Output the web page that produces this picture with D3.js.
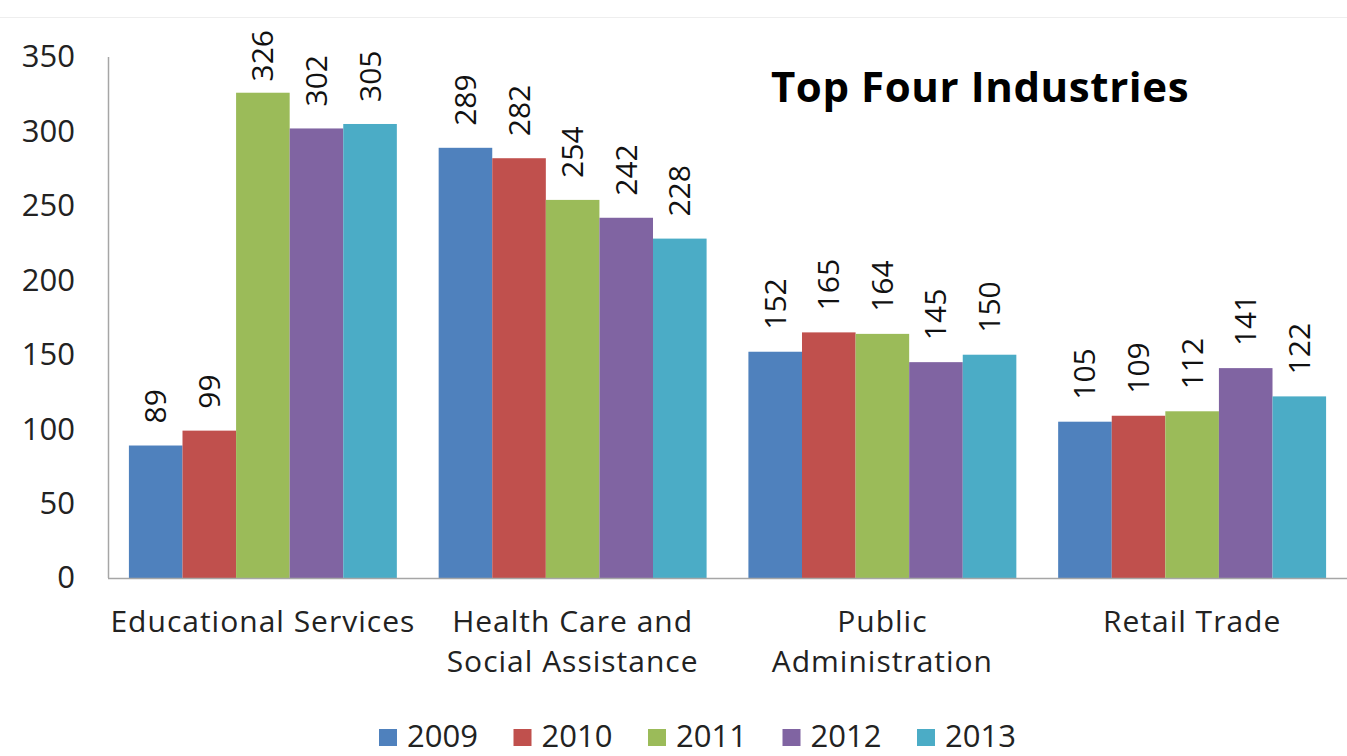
<!DOCTYPE html>
<html>
<head>
<meta charset="utf-8">
<script src="https://cdn.jsdelivr.net/npm/d3@7"></script>
<style>
  body { margin: 0; background: #fff; }
  svg { display: block; }
</style>
</head>
<body>
<svg id="chart" width="1347" height="756"></svg>
<script>
// data
const industries = ["Educational Services", "Health Care and\nSocial Assistance", "Public\nAdministration", "Retail Trade"]
const years = ["2009", "2010", "2011", "2012", "2013"]
const values2009 = [89, 289, 152, 105]
const values2010 = [99, 282, 165, 109]
const values2011 = [326, 254, 164, 112]
const values2012 = [302, 242, 145, 141]
const values2013 = [305, 228, 150, 122]
const yTicks = [0, 50, 100, 150, 200, 250, 300, 350]

const seriesValues = [values2009, values2010, values2011, values2012, values2013]
const colors = ["#4F81BD", "#C0504D", "#9BBB59", "#8064A2", "#4BACC6"]
const font = "'Open Sans', sans-serif"

const width = 1347, height = 756
const plotLeft = 108, plotRight = 1347, plotTop = 57, plotBottom = 578

const svg = d3.select("#chart")

// faint border line along the top
svg.append("line")
  .attr("x1", 0).attr("x2", width)
  .attr("y1", 17.5).attr("y2", 17.5)
  .attr("stroke", "#eeeeee")

const x0 = d3.scaleBand()
  .domain(industries)
  .range([plotLeft, plotRight])
  .paddingInner(0.135)
  .paddingOuter(0.0675)

const x1 = d3.scaleBand()
  .domain(years)
  .range([0, x0.bandwidth()])

const y = d3.scaleLinear()
  .domain([0, 350])
  .range([plotBottom, plotTop])

const color = d3.scaleOrdinal(years, colors)

// y axis labels, no ticks
const yAxis = svg.append("g")
  .attr("transform", "translate(" + plotLeft + ",0)")
  .call(d3.axisLeft(y).tickValues(yTicks).tickSize(0).tickPadding(33))
yAxis.select(".domain").remove()
yAxis.selectAll("text")
  .attr("font-family", font)
  .attr("font-size", 31)
  .attr("fill", "#222")

// bars
const groups = svg.append("g").selectAll("g")
  .data(industries)
  .enter().append("g")
    .attr("transform", d => "translate(" + x0(d) + ",0)")

groups.selectAll("rect")
  .data((d, i) => years.map((yr, j) => ({ year: yr, value: seriesValues[j][i] })))
  .enter().append("rect")
    .attr("x", d => x1(d.year))
    .attr("y", d => y(d.value))
    .attr("width", x1.bandwidth())
    .attr("height", d => plotBottom - y(d.value))
    .attr("fill", d => color(d.year))

// rotated value labels
groups.selectAll("text")
  .data((d, i) => years.map((yr, j) => ({ year: yr, value: seriesValues[j][i] })))
  .enter().append("text")
    .attr("font-family", font)
    .attr("font-size", 30)
    .attr("fill", "#111")
    .attr("dy", "0.35em")
    .text(d => d.value)
    .attr("transform", function(d) {
      const len = this.getComputedTextLength()
      const cx = x1(d.year) + x1.bandwidth() / 2
      // keep label inside the chart top like Excel does
      const start = Math.max(y(d.value) - 22, 30 + len)
      return "translate(" + cx + "," + start + ") rotate(-90)"
    })

// axis lines
svg.append("line")
  .attr("x1", plotLeft + 0.5).attr("x2", plotLeft + 0.5)
  .attr("y1", plotTop).attr("y2", plotBottom)
  .attr("stroke", "#a6a6a6").attr("stroke-width", 1.5)
svg.append("line")
  .attr("x1", plotLeft).attr("x2", plotRight)
  .attr("y1", plotBottom + 0.5).attr("y2", plotBottom + 0.5)
  .attr("stroke", "#a6a6a6").attr("stroke-width", 1.5)

// category labels
const catLabels = svg.append("g").selectAll("text")
  .data(industries)
  .enter().append("text")
    .attr("x", d => x0(d) + x0.bandwidth() / 2)
    .attr("y", 632)
    .attr("text-anchor", "middle")
    .attr("font-family", font)
    .attr("font-size", 30)
    .attr("letter-spacing", 1)
    .attr("fill", "#222")
catLabels.selectAll("tspan")
  .data(d => d.split("\n"))
  .enter().append("tspan")
    .attr("x", function() { return this.parentNode.getAttribute("x") })
    .attr("dy", (d, i) => i === 0 ? 0 : 40)
    .text(d => d)

// title
svg.append("text")
  .attr("x", 980)
  .attr("y", 102)
  .attr("text-anchor", "middle")
  .attr("font-family", font)
  .attr("font-weight", "bold")
  .attr("font-size", 42)
  .attr("letter-spacing", 0.6)
  .attr("fill", "#000")
  .text("Top Four Industries")

// legend
const legend = svg.append("g").selectAll("g")
  .data(years)
  .enter().append("g")
    .attr("transform", (d, i) => "translate(" + (379 + i * 134.5) + ",729)")
legend.append("rect")
  .attr("width", 18).attr("height", 17)
  .attr("fill", d => color(d))
legend.append("text")
  .attr("x", 28)
  .attr("y", 18)
  .attr("font-family", font)
  .attr("font-size", 31)
  .attr("fill", "#222")
  .text(d => d)
</script>
</body>
</html>
